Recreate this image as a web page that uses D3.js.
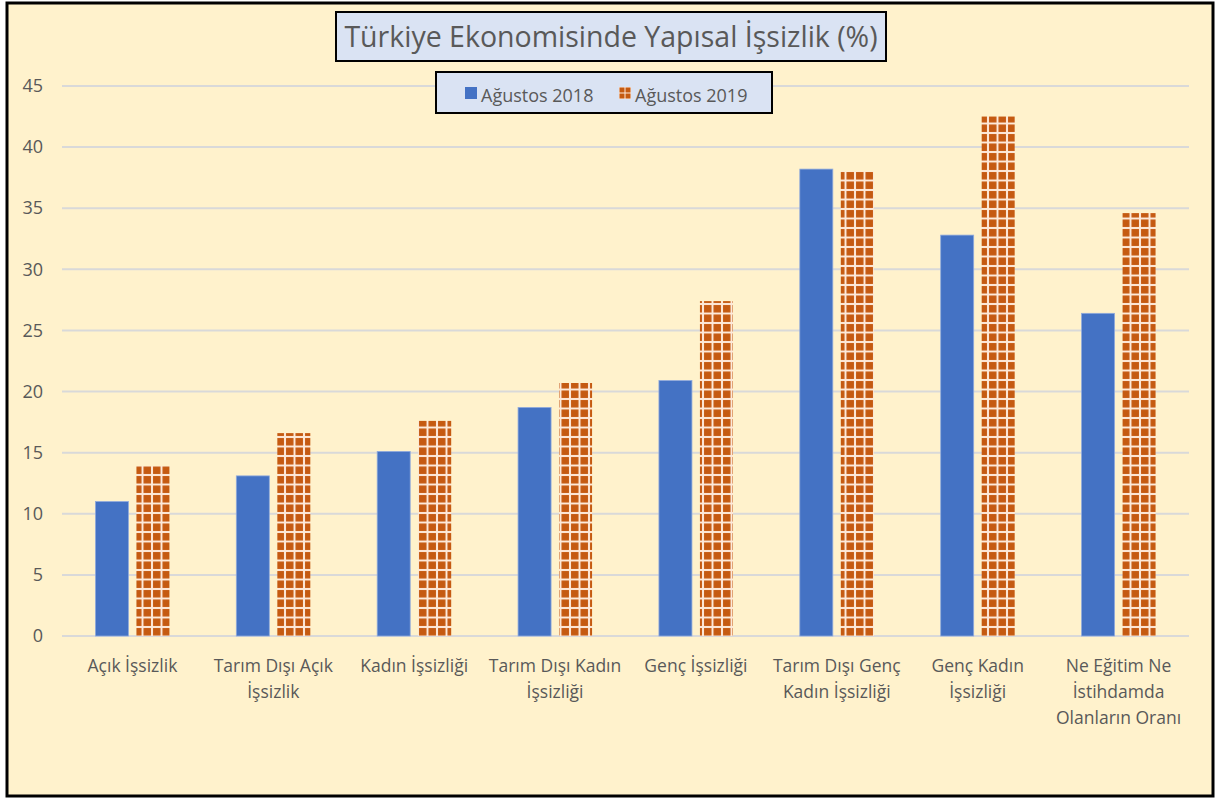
<!DOCTYPE html>
<html>
<head>
<meta charset="utf-8">
<script src="https://cdn.jsdelivr.net/npm/d3@7"></script>
<style>
  body { margin: 0; background: #fff; }
  text { font-family: "Open Sans", "Noto Sans", sans-serif; fill: #595959; }
</style>
</head>
<body>
<svg id="chart"></svg>
<script>
const width = 1216
const height = 800

// Chart data
const categories = [
    ['Açık İşsizlik'],
    ['Tarım Dışı Açık', 'İşsizlik'],
    ['Kadın İşsizliği'],
    ['Tarım Dışı Kadın', 'İşsizliği'],
    ['Genç İşsizliği'],
    ['Tarım Dışı Genç', 'Kadın İşsizliği'],
    ['Genç Kadın', 'İşsizliği'],
    ['Ne Eğitim Ne', 'İstihdamda', 'Olanların Oranı']
];
const seriesNames = ['Ağustos 2018', 'Ağustos 2019'];
const values2018 = [11.0, 13.1, 15.1, 18.7, 20.9, 38.2, 32.8, 26.4];
const values2019 = [13.9, 16.6, 17.6, 20.7, 27.4, 38.0, 42.5, 34.6];
const yTicks = [0, 5, 10, 15, 20, 25, 30, 35, 40, 45];

const margin = { left: 62, right: 27, top: 86, bottom: 164 };

var svg = d3.select('#chart')
    .attr('width', width)
    .attr('height', height);

// Pattern for the 2019 bars (small orange squares)
var defs = svg.append('defs');
function addPattern(id, size, inset) {
    var pat = defs.append('pattern')
        .attr('id', id)
        .attr('patternUnits', 'userSpaceOnUse')
        .attr('width', size)
        .attr('height', size);
    pat.append('rect')
        .attr('width', size).attr('height', size)
        .attr('fill', '#fde9d9');
    pat.append('rect')
        .attr('x', inset).attr('y', inset)
        .attr('width', size - 2 * inset).attr('height', size - 2 * inset)
        .attr('fill', '#c55a11');
}
addPattern('brick', 9.5, 1);
addPattern('brickSmall', 6, 0.5);

// Background and frame
svg.append('rect')
    .attr('x', 7).attr('y', 3)
    .attr('width', 1206).attr('height', 793)
    .attr('fill', '#fff2cc')
    .attr('stroke', '#000')
    .attr('stroke-width', 3);

// Scales
var x = d3.scaleBand()
    .domain(d3.range(categories.length))
    .range([margin.left, width - margin.right]);

var y = d3.scaleLinear()
    .domain([0, 45])
    .range([height - margin.bottom, margin.top]);

// Gridlines
svg.append('g')
    .selectAll('line')
    .data(yTicks)
    .enter()
    .append('line')
    .attr('x1', margin.left)
    .attr('x2', width - margin.right)
    .attr('y1', d => y(d))
    .attr('y2', d => y(d))
    .attr('stroke', '#d9d9d9')
    .attr('stroke-width', 2);

// Y axis labels
var yAxis = svg.append('g')
    .attr('transform', `translate(${margin.left},0)`)
    .call(d3.axisLeft(y).tickValues(yTicks).tickSize(0).tickPadding(19));
yAxis.select('.domain').remove();
yAxis.selectAll('text')
    .attr('font-size', 18)
    .attr('fill', '#595959')
    .style('font-family', '"Open Sans", "Noto Sans", sans-serif');

// Bars
var barW = 33;
var gap = 4;
svg.append('g')
    .selectAll('rect')
    .data(values2018)
    .enter()
    .append('rect')
    .attr('x', (d, i) => x(i) + x.bandwidth() / 2 - gap - barW)
    .attr('y', d => y(d))
    .attr('width', barW)
    .attr('height', d => y(0) - y(d))
    .attr('fill', '#4472c4')
    .attr('stroke', '#8faadc')
    .attr('stroke-width', 0.8);

svg.append('g')
    .selectAll('rect')
    .data(values2019)
    .enter()
    .append('rect')
    .attr('x', (d, i) => x(i) + x.bandwidth() / 2 + gap)
    .attr('y', d => y(d))
    .attr('width', barW)
    .attr('height', d => y(0) - y(d))
    .attr('fill', 'url(#brick)');

// X labels
var xLabels = svg.append('g')
    .selectAll('text')
    .data(categories)
    .enter()
    .append('text')
    .attr('text-anchor', 'middle')
    .attr('font-size', 17.5)
    .attr('x', (d, i) => x(i) + x.bandwidth() / 2)
    .attr('y', 672);
xLabels.selectAll('tspan')
    .data(d => d)
    .enter()
    .append('tspan')
    .attr('x', function () { return d3.select(this.parentNode).attr('x'); })
    .attr('dy', (d, i) => i === 0 ? 0 : 26)
    .text(d => d);

// Title
svg.append('rect')
    .attr('x', 336).attr('y', 12)
    .attr('width', 550).attr('height', 49)
    .attr('fill', '#dae3f3')
    .attr('stroke', '#000')
    .attr('stroke-width', 2);
svg.append('text')
    .attr('x', 611).attr('y', 47)
    .attr('text-anchor', 'middle')
    .attr('font-size', 28.5)
    .text('Türkiye Ekonomisinde Yapısal İşsizlik (%)');

// Legend
svg.append('rect')
    .attr('x', 436).attr('y', 72)
    .attr('width', 336).attr('height', 41)
    .attr('fill', '#dae3f3')
    .attr('stroke', '#000')
    .attr('stroke-width', 2);
var legendX = [465, 619];
var legendFill = ['#4472c4', 'url(#brickSmall)'];
var legend = svg.append('g')
    .selectAll('g')
    .data(seriesNames)
    .enter()
    .append('g')
    .attr('transform', (d, i) => `translate(${legendX[i]},87)`);
legend.append('rect')
    .attr('width', 12).attr('height', 12)
    .attr('fill', (d, i) => legendFill[i]);
legend.append('text')
    .attr('x', 16).attr('y', 15)
    .attr('font-size', 18)
    .text(d => d);
</script>
</body>
</html>
